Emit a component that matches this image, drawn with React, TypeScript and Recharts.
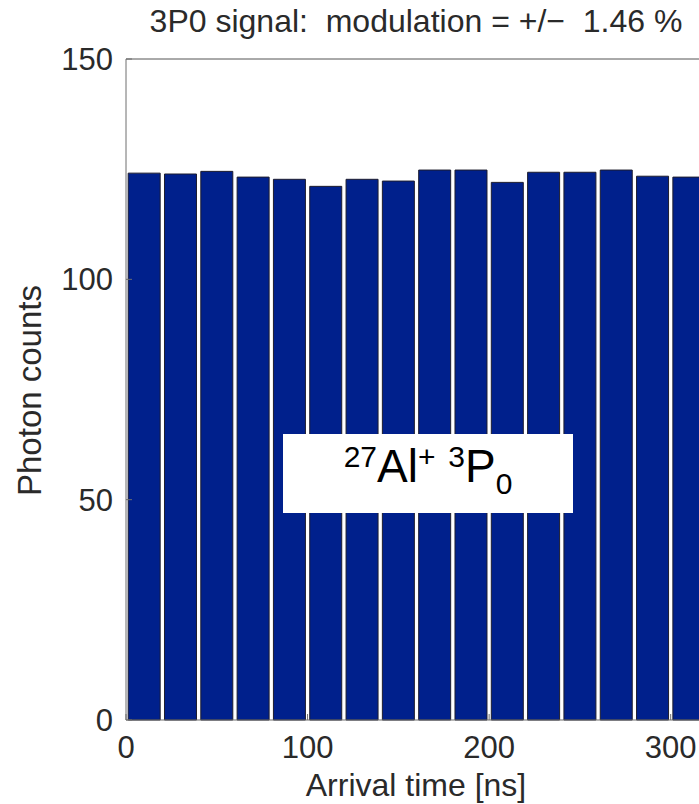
import { Bar, BarChart, XAxis, YAxis } from "recharts";

// Photon arrival histogram for the 3P0 signal, 20 ns bins.
const binCenters = [10, 30, 50, 70, 90, 110, 130, 150, 170, 190, 210, 230, 250, 270, 290, 310];
const photonCounts = [
  124.1, 123.9, 124.5, 123.2, 122.7, 121.1, 122.7, 122.3,
  124.8, 124.8, 122.0, 124.3, 124.3, 124.8, 123.4, 123.2,
];
const xTicks = [0, 100, 200, 300];
const yTicks = [0, 50, 100, 150];

const TEXT = "#2a2a2a";
const AXIS = "#6e6e6e";
const FONT = '"Liberation Sans", Arial, Helvetica, sans-serif';

const data = binCenters.map((t, i) => ({ t, counts: photonCounts[i] }));

export default function App() {
  return (
    <div
      style={{
        position: "absolute",
        left: 0,
        top: 0,
        width: 699,
        height: 804,
        overflow: "hidden",
        background: "#fff",
        fontFamily: FONT,
        color: TEXT,
      }}
    >
      <BarChart
        width={730}
        height={804}
        data={data}
        margin={{ top: 58, right: 23, bottom: 0, left: 0 }}
        barCategoryGap="6%"
      >
        {/* mirrored top axis: box edge with inward ticks, no labels */}
        <XAxis
          xAxisId="top"
          orientation="top"
          type="number"
          dataKey="t"
          domain={[0, 320]}
          ticks={xTicks}
          interval={0}
          height={1}
          tick={false}
          tickSize={-6}
          stroke="#555"
          allowDataOverflow
        />
        <XAxis
          dataKey="t"
          type="number"
          domain={[0, 320]}
          ticks={xTicks}
          interval={0}
          height={84}
          tickSize={-6}
          tickMargin={22}
          stroke={AXIS}
          tick={{ fontSize: 31, fill: TEXT, fontFamily: FONT }}
          allowDataOverflow
        />
        <YAxis
          domain={[0, 150]}
          ticks={yTicks}
          interval={0}
          width={126}
          tickSize={-6}
          tickMargin={19}
          stroke={AXIS}
          tick={{ fontSize: 31, fill: TEXT, fontFamily: FONT }}
        />
        <Bar
          dataKey="counts"
          fill="#00208c"
          stroke="#1d1d2e"
          strokeWidth={1}
          isAnimationActive={false}
        />
      </BarChart>

      <div
        style={{
          position: "absolute",
          left: 116,
          width: 600,
          top: 5,
          fontSize: 32,
          lineHeight: "32px",
          textAlign: "center",
          whiteSpace: "pre",
        }}
      >
        3P0 signal:  modulation = +/−  1.46 %
      </div>

      <div
        style={{
          position: "absolute",
          left: 116,
          width: 600,
          top: 769,
          fontSize: 32,
          lineHeight: "32px",
          textAlign: "center",
        }}
      >
        Arrival time [ns]
      </div>

      <div
        style={{
          position: "absolute",
          left: -171,
          top: 374,
          width: 400,
          height: 33,
          fontSize: 33,
          lineHeight: "33px",
          textAlign: "center",
          transform: "rotate(-90deg)",
        }}
      >
        Photon counts
      </div>

      <div
        style={{
          position: "absolute",
          left: 283,
          top: 434,
          width: 290,
          height: 79,
          background: "#fff",
          display: "flex",
          alignItems: "center",
          justifyContent: "center",
          color: "#000",
        }}
      >
        <span style={{ fontSize: 46, lineHeight: "46px", whiteSpace: "pre", marginTop: -10 }}>
          <span style={{ fontSize: 30, position: "relative", top: -15 }}>27</span>
          Al
          <span style={{ fontSize: 30, position: "relative", top: -15 }}>+</span>
          {" "}
          <span style={{ fontSize: 30, position: "relative", top: -15 }}>3</span>
          P
          <span style={{ fontSize: 30, position: "relative", top: 12 }}>0</span>
        </span>
      </div>
    </div>
  );
}
